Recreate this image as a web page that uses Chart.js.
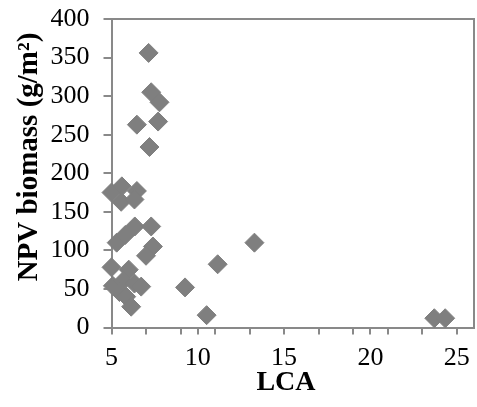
<!DOCTYPE html>
<html>
<head>
<meta charset="utf-8">
<script src="https://cdn.jsdelivr.net/npm/chart.js@4"></script>
<style>
  html, body { margin: 0; padding: 0; background: #fff; }
  #wrap { width: 477px; height: 407px; }
</style>
</head>
<body>
<div id="wrap"><canvas id="lcaChart" width="477" height="407"></canvas></div>
<script>
// LCA vs NPV biomass, one value pair per plot
const lcaValues = [7.15, 7.3, 7.78, 6.47, 7.7, 7.2, 5.0, 5.6, 5.56, 6.47, 6.33, 5.3, 5.8, 6.35, 7.3, 7.4, 7.0,
    5.0, 6.0, 5.08, 5.66, 5.46, 5.85, 6.14, 6.33, 6.72, 9.26, 10.51, 11.15, 13.28, 23.7, 24.33];
const npvValues = [356, 305, 292, 263, 267, 234, 175, 183, 163, 177, 166, 110, 120, 131, 131, 105, 93,
    78, 75, 54, 60, 46, 40, 27, 57, 53, 52, 16, 82, 110, 12, 12];

const xTickValues = [5, 7, 9, 10, 11, 13, 15, 17, 19, 20, 21, 23, 25];
const xLabelValues = [5, 10, 15, 20, 25];
const yTickValues = [0, 50, 100, 150, 200, 250, 300, 350, 400];

const axisGray = '#898989';
const markerGray = '#7f7f7f';
const serif = "'Liberation Serif', 'Times New Roman', serif";

const points = lcaValues.map((x, i) => ({ x: x, y: npvValues[i] }));

// plot frame (top + right) and axis titles
const frameAndTitles = {
    id: 'frameAndTitles',
    beforeDatasetsDraw(chart) {
        const a = chart.chartArea;
        const ctx = chart.ctx;
        ctx.save();
        ctx.strokeStyle = axisGray;
        ctx.lineWidth = 2;
        ctx.beginPath();
        ctx.moveTo(a.left, a.top);
        ctx.lineTo(a.right, a.top);
        ctx.lineTo(a.right, a.bottom);
        ctx.stroke();
        ctx.restore();
    },
    afterDraw(chart) {
        const ctx = chart.ctx;
        ctx.save();
        ctx.fillStyle = '#000';
        ctx.font = 'bold 28px ' + serif;
        ctx.textAlign = 'center';
        ctx.textBaseline = 'alphabetic';
        ctx.fillText('LCA', 286, 390);
        ctx.font = 'bold 29px ' + serif;
        ctx.translate(37, 157);
        ctx.rotate(-Math.PI / 2);
        ctx.fillText('NPV biomass (g/m\u00B2)', 0, 0);
        ctx.restore();
    }
};

new Chart(document.getElementById('lcaChart'), {
    type: 'scatter',
    data: {
        datasets: [{
            data: points,
            backgroundColor: markerGray,
            borderColor: markerGray,
            borderWidth: 1,
            pointStyle: 'rectRot',
            pointRadius: 9.5,
            pointHoverRadius: 9.5
        }]
    },
    plugins: [frameAndTitles],
    options: {
        responsive: false,
        animation: false,
        clip: false,
        // no extra room for marker overflow, the frame sits close to the edge
        layout: { autoPadding: false, padding: { left: 36.5, top: 0, right: 0, bottom: 25.3 } },
        plugins: { legend: { display: false }, tooltip: { enabled: false } },
        scales: {
            x: {
                min: 5,
                max: 26,
                afterBuildTicks: (axis) => { axis.ticks = xTickValues.map(v => ({ value: v })); },
                afterFit: (axis) => { axis.paddingRight = 3; },
                ticks: {
                    color: '#000',
                    font: { family: serif, size: 26 },
                    padding: 8,
                    maxRotation: 0,
                    autoSkip: false,
                    callback: (v) => xLabelValues.includes(v) ? String(v) : ''
                },
                grid: { display: true, drawOnChartArea: false, drawTicks: true, tickLength: 7, color: axisGray, lineWidth: 2 },
                border: { display: true, color: axisGray, width: 2 }
            },
            y: {
                min: 0,
                max: 400,
                afterBuildTicks: (axis) => { axis.ticks = yTickValues.map(v => ({ value: v })); },
                afterFit: (axis) => { axis.paddingTop = 19; },
                ticks: {
                    color: '#000',
                    font: { family: serif, size: 26 },
                    padding: 14
                },
                grid: { display: true, drawOnChartArea: false, drawTicks: true, tickLength: 8, color: axisGray, lineWidth: 2 },
                border: { display: true, color: axisGray, width: 2 }
            }
        }
    }
});
</script>
</body>
</html>
